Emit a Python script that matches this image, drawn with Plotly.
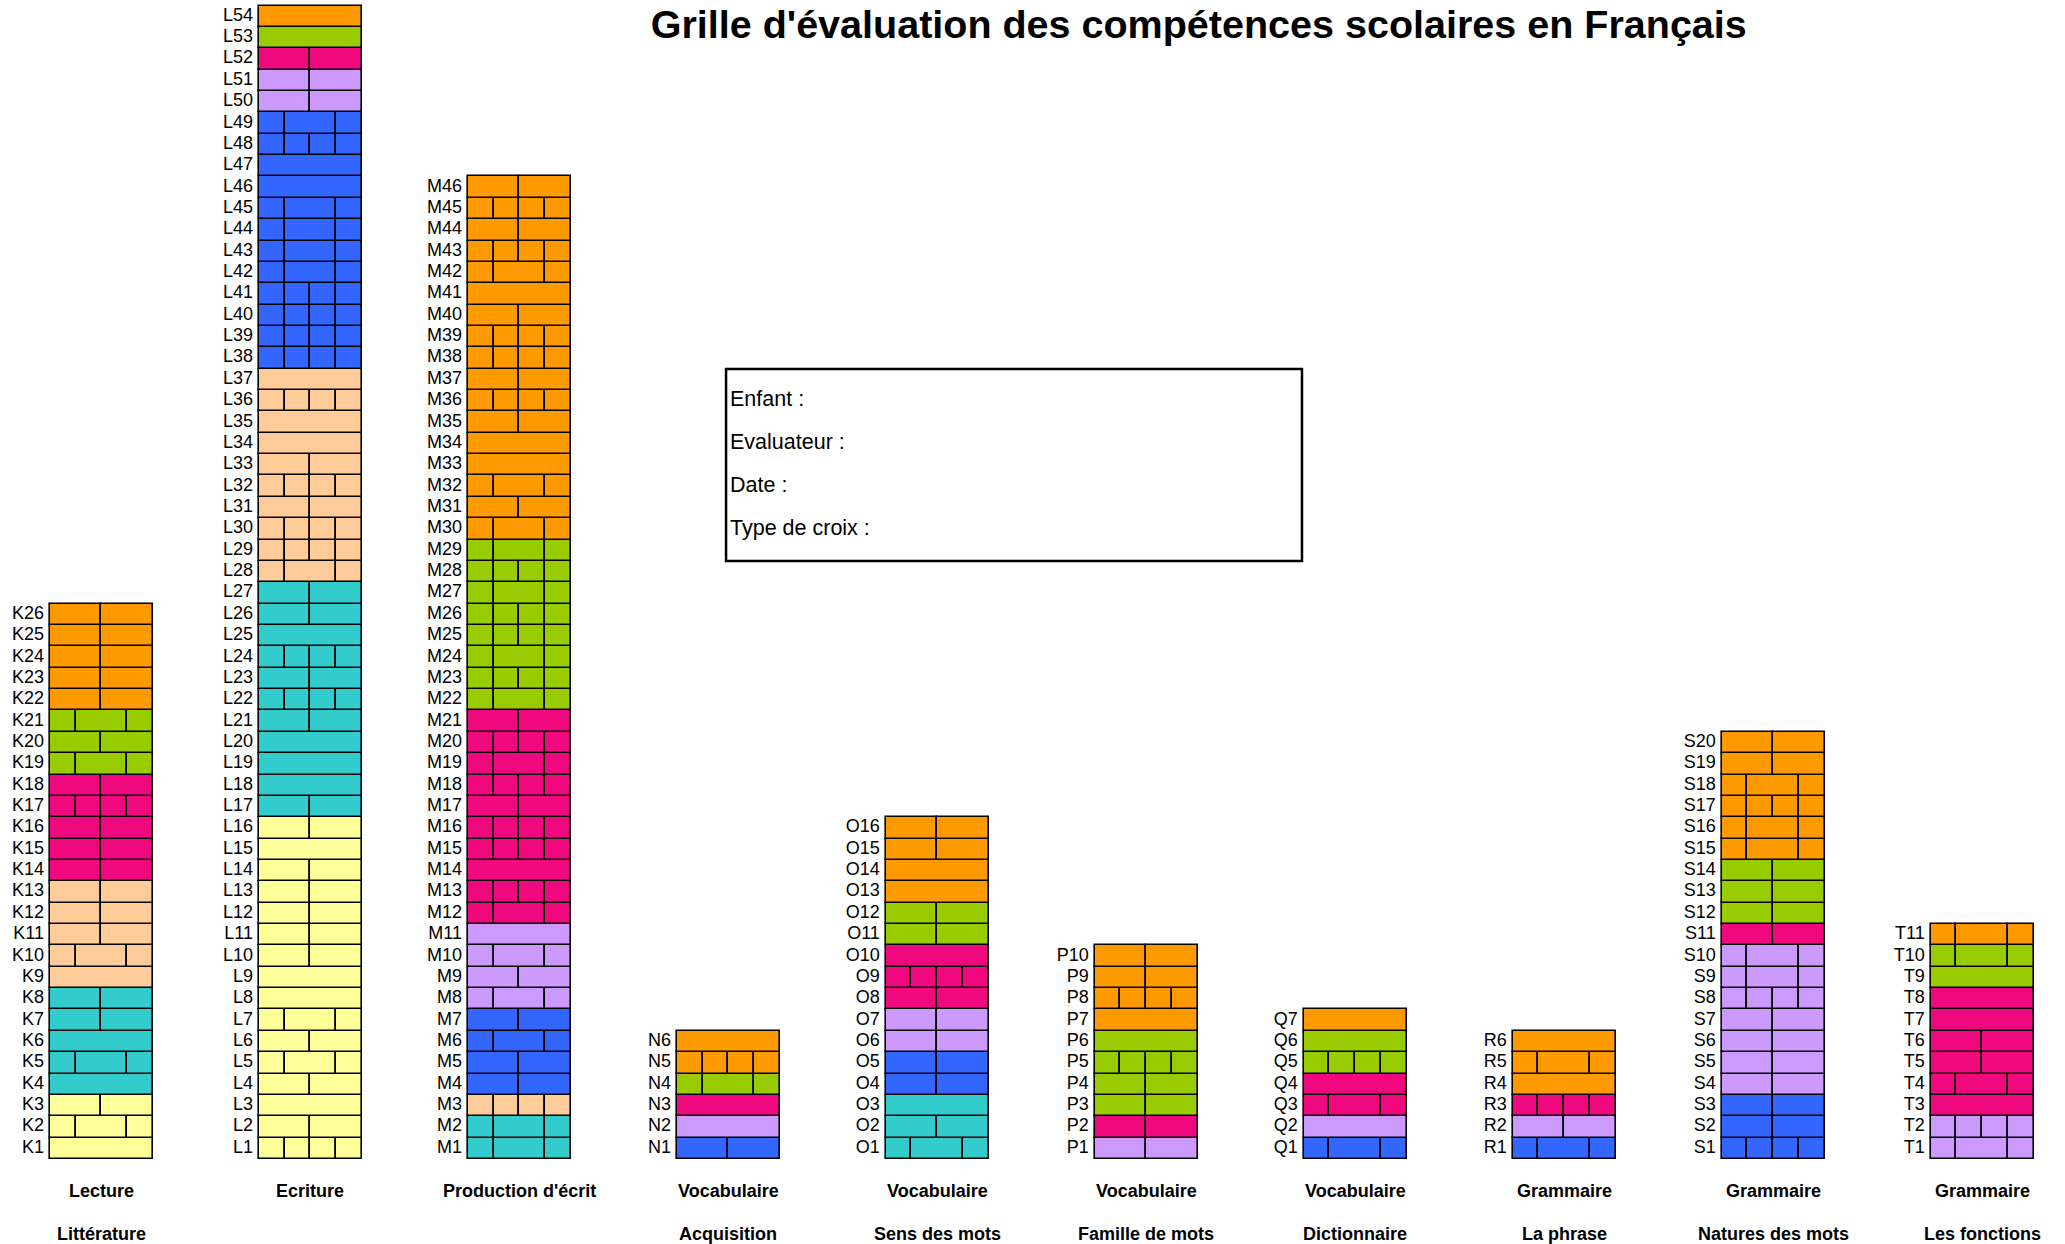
import plotly.graph_objects as go

# ---------------- data ----------------
column_prefixes = ["K", "L", "M", "N", "O", "P", "Q", "R", "S", "T"]
top_labels = ["Lecture", "Ecriture", "Production d'écrit", "Vocabulaire", "Vocabulaire",
              "Vocabulaire", "Vocabulaire", "Grammaire", "Grammaire", "Grammaire"]
bottom_labels = ["Littérature", "", "", "Acquisition", "Sens des mots",
                 "Famille de mots", "Dictionnaire", "La phrase", "Natures des mots", "Les fonctions"]

# colour groups (bottom to top order inside each column)
group_names = ["jaune", "turquoise", "pêche", "bleu", "mauve", "rose", "vert", "orange"]
group_colors = ["#FFFF99", "#33CCCC", "#FFCC99", "#3366FF", "#CC99FF", "#F0087F", "#99CC00", "#FF9900"]

# number of rows of each colour group, per column
group_counts = {
    "K": [3, 5, 5, 0, 0, 5, 3, 5],
    "L": [16, 11, 10, 12, 2, 1, 1, 1],
    "M": [0, 2, 1, 4, 4, 10, 8, 17],
    "N": [0, 0, 0, 1, 1, 1, 1, 2],
    "O": [0, 3, 0, 2, 2, 3, 2, 4],
    "P": [0, 0, 0, 0, 1, 1, 4, 4],
    "Q": [0, 0, 0, 1, 1, 2, 2, 1],
    "R": [0, 0, 0, 1, 1, 1, 0, 3],
    "S": [0, 0, 0, 3, 7, 1, 3, 6],
    "T": [0, 0, 0, 0, 2, 6, 2, 1],
}

# division pattern of each row (1 = whole, 2 = halves, 3 = quarter/half/quarter, 4 = quarters)
row_patterns = {
    "K": [1, 3, 2, 1, 3, 1, 2, 2, 1, 3, 2, 2, 2, 2, 2, 2, 4, 2, 3, 2, 3, 2, 2, 2, 2, 2],
    "L": [4, 2, 1, 2, 3, 2, 3, 1, 1, 2, 2, 2, 2, 2, 1, 2,
          2, 1, 1, 1, 2, 4, 2, 4, 1, 2, 2,
          3, 4, 4, 2, 4, 2, 1, 1, 4, 1,
          4, 4, 4, 4, 3, 3, 3, 3, 1, 1, 4, 3,
          2, 2, 2, 1, 1],
    "M": [3, 3, 4, 2, 2, 3, 2, 3, 2, 3, 1,
          3, 4, 1, 4, 4, 2, 4, 3, 4, 2,
          3, 4, 3, 4, 4, 3, 4, 3,
          3, 2, 3, 1, 1, 2, 4, 2, 4, 4, 2, 1, 3, 4, 2, 4, 2],
    "N": [2, 1, 1, 3, 4, 1],
    "O": [3, 2, 1, 2, 2, 2, 2, 2, 4, 1, 2, 2, 1, 1, 2, 2],
    "P": [2, 2, 2, 2, 4, 1, 1, 4, 2, 2],
    "Q": [3, 1, 3, 1, 4, 1, 1],
    "R": [3, 2, 4, 1, 3, 1],
    "S": [4, 2, 2, 2, 2, 2, 2, 4, 3, 3, 2, 2, 2, 2, 3, 3, 4, 3, 2, 2],
    "T": [3, 4, 1, 3, 2, 2, 1, 1, 1, 3, 3],
}

pattern_fractions = {1: [1.0], 2: [0.5, 0.5], 3: [0.25, 0.5, 0.25], 4: [0.25, 0.25, 0.25, 0.25]}

title_text = "Grille d'évaluation des compétences scolaires en Français"
info_lines = ["Enfant :", "Evaluateur :", "Date :", "Type de croix :"]

# ---------------- build ----------------
W = 0.493  # column width in x units
FONT = "Liberation Sans, Arial, sans-serif"

seg_y, seg_len, seg_base, seg_col = [], [], [], []
lab_x, lab_y, lab_t = [], [], []

for ci, pre in enumerate(column_prefixes):
    colors = []
    for g, n in enumerate(group_counts[pre]):
        colors += [group_colors[g]] * n
    pats = row_patterns[pre]
    left = ci - W / 2
    for r, p in enumerate(pats):
        acc = 0.0
        for f in pattern_fractions[p]:
            seg_y.append(r + 0.5)
            seg_len.append(f * W)
            seg_base.append(left + acc * W)
            seg_col.append(colors[r])
            acc += f
        lab_x.append(left - 0.028)
        lab_y.append(r + 0.5)
        lab_t.append(f"{pre}{r + 1}")

fig = go.Figure()
fig.add_trace(go.Bar(
    orientation="h", y=seg_y, x=seg_len, base=seg_base, width=1,
    marker=dict(color=seg_col, line=dict(color="#000000", width=1.6)),
    hoverinfo="skip", showlegend=False,
))
fig.add_trace(go.Scatter(
    x=lab_x, y=lab_y, text=lab_t, mode="text", textposition="middle left",
    textfont=dict(family=FONT, size=18, color="#000000"),
    hoverinfo="skip", showlegend=False, cliponaxis=False,
))

annotations = []
for ci in range(len(column_prefixes)):
    annotations.append(dict(x=ci, y=-1.48, xref="x", yref="y", text=f"<b>{top_labels[ci]}</b>",
                            showarrow=False, font=dict(family=FONT, size=18, color="#000000")))
    if bottom_labels[ci]:
        annotations.append(dict(x=ci, y=-3.51, xref="x", yref="y", text=f"<b>{bottom_labels[ci]}</b>",
                                showarrow=False, font=dict(family=FONT, size=18, color="#000000")))

info_y = [0.679, 0.6447, 0.610, 0.5756]
for t, yy in zip(info_lines, info_y):
    annotations.append(dict(x=0.3525, y=yy, xref="paper", yref="paper", text=t, showarrow=False,
                            xanchor="left", yanchor="middle", font=dict(family=FONT, size=21.5, color="#000000")))

fig.update_layout(
    width=2065, height=1244,
    margin=dict(l=0, r=0, t=0, b=0),
    paper_bgcolor="white", plot_bgcolor="white",
    barmode="overlay", bargap=0,
    title=dict(text=f"<b>{title_text}</b>", x=0.5805, y=0.9805, xanchor="center", yanchor="middle",
               xref="paper", yref="paper", font=dict(family=FONT, size=39.5, color="#000000")),
    xaxis=dict(range=[-0.4853, 9.397], visible=False, fixedrange=True),
    yaxis=dict(range=[-3.98, 54.26], visible=False, fixedrange=True),
    annotations=annotations,
    shapes=[dict(type="rect", xref="paper", yref="paper", x0=0.3516, x1=0.6305, y0=0.549, y1=0.7034,
                 line=dict(color="#000000", width=2.5), fillcolor="rgba(0,0,0,0)")],
)

fig.write_html("out.html", config={"displayModeBar": False},
               post_script="document.body.style.margin='0';")
